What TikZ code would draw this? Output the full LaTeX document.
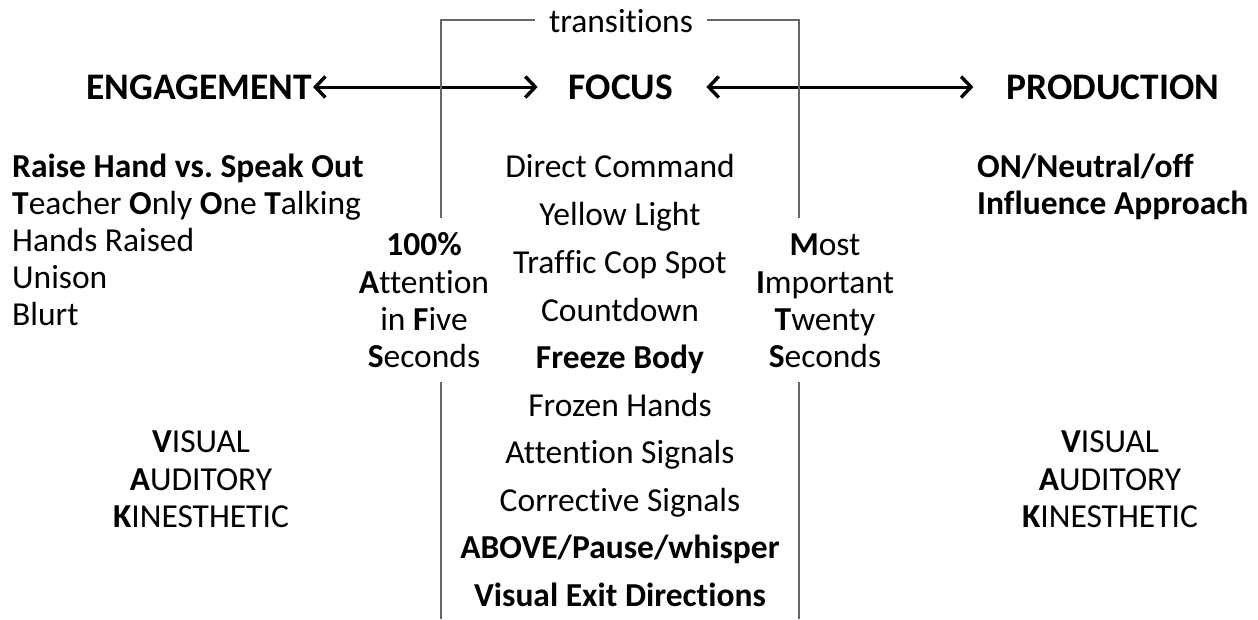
\documentclass[tikz,border=0pt]{standalone}
\usepackage{fontspec}
\setmainfont{Carlito}[Ligatures={NoCommon,NoRequired,NoContextual}]
\usetikzlibrary{arrows.meta}
\newcommand{\nolig}{\kern0pt }
\frenchspacing
\begin{document}
\begin{tikzpicture}[x=1pt,y=-1pt,
  txt/.style={inner sep=0pt, text height=21.5pt, text depth=0pt, font=\fontsize{33.5}{40}\selectfont},
  lft/.style={txt, anchor=west},
  hd/.style={txt, text height=24pt, font=\fontsize{37.5}{44}\selectfont\bfseries},
  bar/.style={draw=black!60, line width=1.5pt},
  dbl/.style={line width=3pt, {Straight Barb[length=10pt,width=21pt,line width=3.4pt]}-{Straight Barb[length=10pt,width=21pt,line width=3.4pt]}}]
\useasboundingbox (0,0) rectangle (1258,619);
% headings
\node[hd] (eng) at (199,87) {ENGAGEMENT};
\node[hd] (focus) at (621,87) {FOCUS};
\node[hd] (prod) at (1113,87) {PRODUCTION};
\draw[dbl, shorten <=1pt, shorten >=31pt] (eng.east) -- (focus.west);
\draw[dbl, shorten <=33pt, shorten >=33pt] (focus.east) -- (prod.west);
% transitions bracket
\node[txt] (trans) at (621,22) {transit\nolig ions};
\coordinate (lt) at (441,218);
\coordinate (rt) at (799,218);
\coordinate (lb1) at (441,382);
\coordinate (lb2) at (441,619);
\coordinate (rb1) at (799,382);
\coordinate (rb2) at (799,619);
\draw[bar, shorten <=14pt] (trans.west |- 0,20) -| (lt);
\draw[bar, shorten <=14pt] (trans.east |- 0,20) -| (rt);
\draw[bar] (lb1) -- (lb2);
\draw[bar] (rb1) -- (rb2);
% engagement list
\node[lft] (e1) at (12,167) {\bfseries Raise Hand vs. Speak Out};
\node[lft] (e2) at (12,204) {\textbf{T}eacher \textbf{O}nly \textbf{O}ne \textbf{T}alking};
\node[lft] (e3) at (12,241) {Hands Raised};
\node[lft] (e4) at (12,278) {Unison};
\node[lft] (e5) at (12,315) {Blurt};
% production list
\node[lft] (p1) at (977,167) {\bfseries ON/Neutral/of\nolig f};
\node[lft] (p2) at (977,204) {\bfseries Inf\nolig luence Approach};
% 100% block
\node[txt] (a1) at (424,245) {\bfseries 100\%};
\node[txt] (a2) at (424,283) {\textbf{A}ttent\nolig ion};
\node[txt] (a3) at (424,320) {in \textbf{F}ive};
\node[txt] (a4) at (424,357) {\textbf{S}econds};
% MITS block
\node[txt] (m1) at (825,245) {\textbf{M}ost};
\node[txt] (m2) at (825,283) {\textbf{I}mportant};
\node[txt] (m3) at (825,320) {\textbf{T}wenty};
\node[txt] (m4) at (825,357) {\textbf{S}econds};
% focus list
\node[txt] (f1) at (620,167) {Direct Command};
\node[txt] (f2) at (620,215) {Yellow Light};
\node[txt] (f3) at (620,263) {Traf\nolig f\nolig ic Cop Spot};
\node[txt] (f4) at (620,311) {Countdown};
\node[txt] (f5) at (620,358) {\bfseries Freeze Body};
\node[txt] (f6) at (620,406) {Frozen Hands};
\node[txt] (f7) at (620,453) {Attent\nolig ion Signals};
\node[txt] (f8) at (620,501) {Correct\nolig ive Signals};
\node[txt] (f9) at (620,548) {\bfseries ABOVE/Pause/whisper};
\node[txt] (f10) at (620,596) {\bfseries Visual Exit Direct\nolig ions};
% VAK left
\node[txt] (v1) at (201,442) {\textbf{V}ISUAL};
\node[txt] (v2) at (201,480) {\textbf{A}UDITORY};
\node[txt] (v3) at (201,517) {\textbf{K}INESTHETIC};
% VAK right
\node[txt] (w1) at (1110,442) {\textbf{V}ISUAL};
\node[txt] (w2) at (1110,480) {\textbf{A}UDITORY};
\node[txt] (w3) at (1110,517) {\textbf{K}INESTHETIC};
\end{tikzpicture}
\end{document}
